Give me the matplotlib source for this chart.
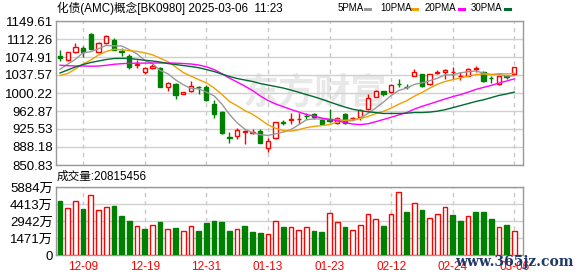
import numpy as np
import pandas as pd
import matplotlib
matplotlib.use("Agg")
import matplotlib.pyplot as plt
from matplotlib.lines import Line2D

# daily K-line of 化债(AMC)概念 [BK0980]
opens = [1077.7, 1068.7, 1086.0, 1093.6, 1122.6, 1086.0, 1103.3, 1110.2, 1088.1, 1077.0,
         1058.3, 1043.8, 1051.4, 1052.8, 1013.4, 1019.6, 997.5, 1004.4, 1013.4, 1012.0,
         976.7, 961.5, 909.6, 911.0, 918.6, 917.2, 920.5, 886.8, 906.2, 940.0,
         945.2, 945.6, 953.0, 956.6, 944.2, 946.0, 937.4, 956.6, 948.0, 949.8,
         966.4, 992.5, 1005.0, 1001.7, 1018.8, 1013.3, 1036.1, 1039.6, 1018.2, 1042.5,
         1044.4, 1043.8, 1035.5, 1036.1, 1050.4, 1044.4, 1031.4, 1018.2, 1034.7, 1039.0]
highs = [1089.4, 1086.0, 1103.3, 1097.7, 1125.4, 1106.7, 1120.6, 1113.6, 1092.9, 1080.5,
         1068.7, 1054.9, 1059.7, 1054.9, 1022.4, 1021.0, 1003.0, 1025.8, 1014.0, 1016.8,
         985.7, 962.9, 920.0, 926.9, 923.5, 925.5, 926.2, 906.2, 940.8, 944.2,
         958.1, 958.1, 958.1, 958.1, 947.7, 966.4, 951.0, 958.1, 951.0, 966.4,
         998.1, 1006.0, 1005.0, 1019.0, 1029.3, 1018.2, 1050.0, 1039.6, 1039.5, 1047.9,
         1050.0, 1054.8, 1043.2, 1051.5, 1056.2, 1045.8, 1036.1, 1036.1, 1037.5, 1053.5]
lows = [1067.3, 1067.3, 1083.9, 1075.6, 1090.8, 1084.6, 1101.9, 1088.7, 1077.7, 1050.7,
        1051.4, 1039.7, 1049.3, 1012.0, 1005.1, 987.1, 997.5, 1003.0, 998.2, 984.3,
        947.7, 915.8, 895.8, 904.8, 895.1, 915.1, 895.8, 877.1, 904.8, 933.8,
        935.9, 935.9, 945.6, 945.6, 935.9, 940.7, 935.9, 935.9, 944.2, 944.2,
        965.0, 991.0, 993.0, 1001.0, 1012.0, 1008.0, 1034.9, 1013.3, 1017.5, 1039.0,
        1029.3, 1029.3, 1027.2, 1035.0, 1043.2, 1023.0, 1020.3, 1017.5, 1029.3, 1039.0]
closes = [1072.2, 1084.6, 1095.0, 1085.3, 1092.2, 1103.3, 1119.2, 1090.1, 1084.6, 1053.5,
          1059.7, 1052.1, 1056.2, 1013.4, 1020.3, 996.1, 1001.6, 1015.4, 1012.0, 985.7,
          957.3, 917.9, 907.6, 923.5, 920.7, 920.0, 896.5, 900.6, 939.4, 938.7,
          946.3, 946.8, 951.6, 949.8, 935.9, 942.0, 948.9, 937.4, 949.0, 964.9,
          989.2, 1005.0, 998.1, 1017.3, 1018.0, 1012.5, 1043.2, 1015.4, 1039.0, 1043.2,
          1047.9, 1044.4, 1036.1, 1050.5, 1051.2, 1025.1, 1030.7, 1036.1, 1034.0, 1053.5]

# volume in 万, and whether the volume bar is drawn red (1) or green (0)
volumes = [4650, 4104, 4707, 3960, 5223, 3932, 4190, 4219, 3358, 2927,
           2468, 2239, 2554, 2841, 2210, 2325, 2038, 2468, 2066, 2755,
           2927, 2841, 2066, 2210, 2497, 1980, 1894, 1779, 2899, 2411,
           2382, 2124, 2382, 2066, 1980, 3674, 2813, 2411, 2124, 2554,
           3588, 3157, 2497, 3588, 5482, 3702, 4535, 3875, 3243, 3588,
           4190, 3444, 2927, 3415, 3702, 3702, 3100, 2382, 2583, 2038]
vol_up = [0, 1, 1, 0, 1, 1, 1, 0, 0, 0,
          1, 0, 1, 0, 1, 0, 1, 1, 0, 0,
          0, 0, 0, 1, 0, 0, 0, 1, 1, 0,
          1, 1, 1, 0, 0, 1, 1, 0, 1, 1,
          1, 1, 0, 1, 1, 0, 1, 0, 1, 1,
          1, 0, 0, 1, 0, 0, 0, 1, 0, 1]

# moving averages before the window is full (history not shown on the chart)
ma5_head = [1049.4, 1060.0, 1070.3, 1083.6]
ma10_head = [1036.5, 1040.7, 1050.0, 1060.4, 1068.7, 1079.1, 1086.3, 1090.9, 1090.1]
ma20_head = [1057.9, 1056.9, 1056.2, 1056.2, 1055.8, 1056.2, 1057.7, 1059.8, 1061.0, 1061.9,
             1062.1, 1062.3, 1062.5, 1062.5, 1062.5, 1062.1, 1061.4, 1060.4, 1058.3]
ma30_head = [1041.7, 1048.0, 1054.2, 1059.3, 1063.5, 1066.6, 1069.7, 1071.8, 1072.2, 1071.8,
             1070.1, 1068.1, 1066.6, 1064.5, 1061.4, 1059.3, 1057.2, 1055.2, 1052.7, 1048.9,
             1044.8, 1039.6, 1034.5, 1030.3, 1027.2, 1024.1, 1019.9, 1016.8, 1013.7]

price_ticks = [850.83, 888.18, 925.53, 962.87, 1000.22, 1037.57, 1074.91, 1112.26, 1149.61]
vol_ticks = [0, 1471, 2942, 4413, 5884]
vol_tick_labels = ["0", "1471万", "2942万", "4413万", "5884万"]
date_ticks = [3, 11, 19, 27, 35, 43, 51, 59]
date_labels = ["12-09", "12-19", "12-31", "01-13", "01-23", "02-12", "02-24", "03-06"]

RED = "#ff0000"
GREEN = "#008000"
CJK = ["Liberation Sans", "Noto Sans CJK SC"]

W, H = 578, 276


def box(l, t, r, b):
    return [l / W, 1 - b / H, (r - l) / W, (b - t) / H]


fig = plt.figure(figsize=(W / 100, H / 100), dpi=100)
ax = fig.add_axes(box(56, 21, 523, 165))
axv = fig.add_axes(box(56, 187, 523, 255))

x = np.arange(len(closes))
o = np.array(opens)
c = np.array(closes)
up = c >= o
edge = np.where(up, RED, GREEN)
face = np.where(up, "white", GREEN)

# candles
ax.vlines(x, lows, highs, colors=edge, lw=1, zorder=3)
ax.bar(x, np.maximum(np.abs(c - o), 0.5), 0.55, bottom=np.minimum(o, c),
       color=face, edgecolor=edge, lw=1, zorder=4)

# moving averages
ma_cfg = [(5, ma5_head, "#999999"), (10, ma10_head, "#f0a000"),
          (20, ma20_head, "#ff00ff"), (30, ma30_head, "#006a30")]
for n, head, col in ma_cfg:
    ma = pd.Series(closes).rolling(n).mean().to_numpy()
    ma[:n - 1] = head
    ax.plot(x, ma, color=col, lw=1, zorder=5)

# volume
vup = np.array(vol_up) == 1
axv.bar(x, volumes, 0.6, color=np.where(vup, "white", GREEN),
        edgecolor=np.where(vup, RED, GREEN), lw=1, zorder=3)

for a in (ax, axv):
    a.set_xlim(-0.52, 60.13)
    a.grid(axis="y", color="#d0d0d0", lw=1, zorder=0)
    for t in date_ticks:
        a.axvline(t, color="#c8c8c8", lw=1, ls=(0, (3, 3)), zorder=1)
    a.tick_params(length=0, pad=2.2)
    for s in a.spines.values():
        s.set_color("#999999")
        s.set_linewidth(1)

ax.set_ylim(price_ticks[0], price_ticks[-1])
ax.set_yticks(price_ticks, [f"{v:.2f}" for v in price_ticks],
              fontsize=9.5, family="Liberation Sans")
ax.set_xticks([])

axv.set_ylim(0, 5884)
axv.set_yticks(vol_ticks, vol_tick_labels, fontsize=9.5, family=CJK)
axv.set_xticks(date_ticks, date_labels, fontsize=8.5, family="Liberation Sans", color=RED)
axv.tick_params(axis="x", pad=4.5)

# faint site watermark behind the candles
ax.text(0.555, 0.5, "东方财富", transform=ax.transAxes, ha="center", va="center",
        fontsize=26, color="#e8e8e8", family=["Noto Sans CJK SC"], fontweight="bold",
        zorder=0.5)

# header texts
fig.text(57 / W, 1 - 8 / H, "化债(AMC)概念[BK0980] 2025-03-06  11:23",
         ha="left", va="center", fontsize=8.4, family=CJK)
fig.text(57 / W, 1 - 177 / H, "成交量:20815456",
         ha="left", va="center", fontsize=8.4, family=CJK)

# MA legend
legend = [("5PMA", 338, 365, "#999999"), ("10PMA", 380, 412, "#f0a000"),
          ("20PMA", 425, 459, "#ff00ff"), ("30PMA", 471, 505, "#006a30")]
for label, tx, sx, col in legend:
    fig.text(tx / W, 1 - 8 / H, label, ha="left", va="center",
             fontsize=7, family="Liberation Sans")
    fig.add_artist(Line2D([sx / W, (sx + 5) / W], [1 - 8.5 / H, 1 - 8.5 / H],
                          color=col, lw=2.2, transform=fig.transFigure))

fig.text(455 / W, 1 - 262 / H, "www.365jz.com", ha="left", va="center",
         fontsize=10, color="#1f3a6a", family="DejaVu Serif", fontweight="bold")

fig.savefig("out.png", dpi=100)
